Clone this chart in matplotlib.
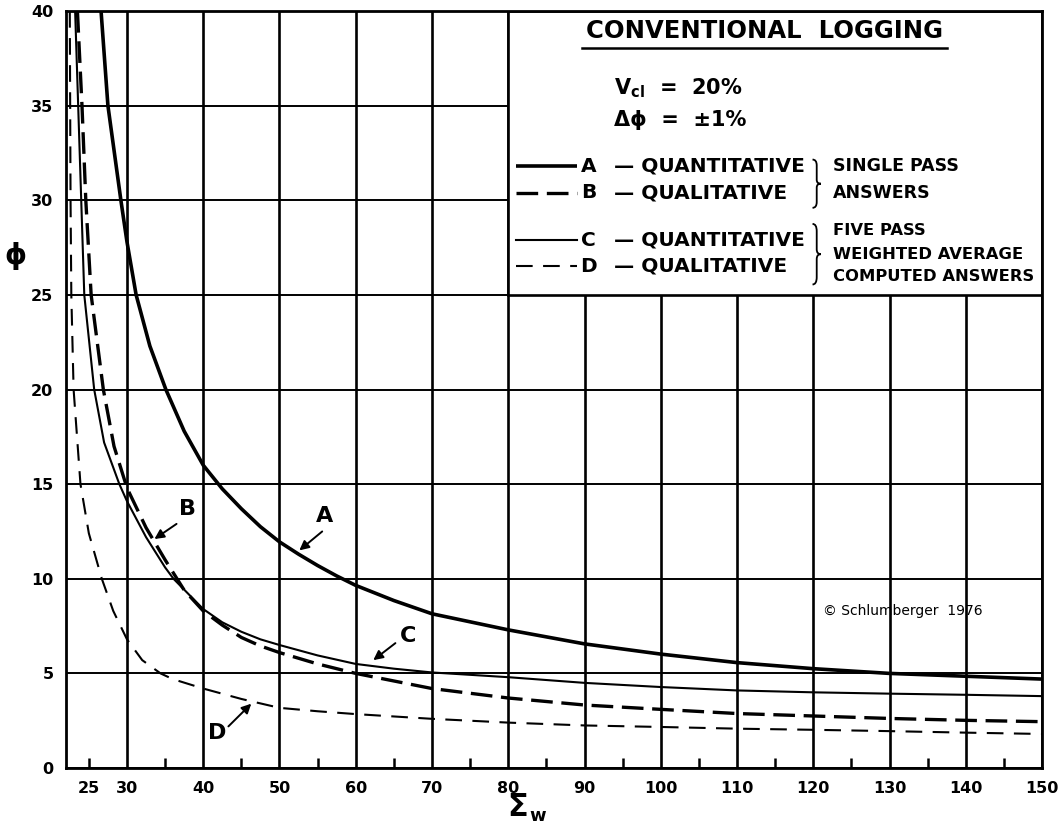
import matplotlib
matplotlib.use("Agg")
import matplotlib.pyplot as plt
from matplotlib.patches import Rectangle, PathPatch
from matplotlib.path import Path
from matplotlib.ticker import FixedLocator, FixedFormatter

# ---------------- data ----------------
a_x = [26.6, 27.5, 29.2, 30.0, 31.2, 33.0, 35.1, 37.5, 40.0, 42.5, 45.0, 47.5, 50.0,
       52.5, 55.0, 57.5, 60.0, 65.0, 70.0, 80.0, 90.0, 100.0, 110.0, 120.0, 130.0,
       140.0, 150.0]
a_y = [40.0, 35.0, 30.0, 27.8, 25.0, 22.3, 20.0, 17.8, 16.0, 14.75, 13.7, 12.75, 11.95,
       11.3, 10.7, 10.15, 9.65, 8.85, 8.15, 7.3, 6.56, 6.02, 5.57, 5.25, 5.0,
       4.85, 4.7]

b_x = [23.5, 24.1, 24.6, 25.3, 26.9, 28.3, 30.0, 32.5, 35.0, 37.5, 40.0, 42.5, 45.0,
       47.5, 50.0, 55.0, 60.0, 70.0, 80.0, 90.0, 100.0, 110.0, 120.0, 130.0, 140.0,
       150.0]
b_y = [40.0, 35.0, 30.0, 25.0, 20.0, 17.0, 14.8, 12.7, 11.0, 9.4, 8.3, 7.55, 6.9,
       6.45, 6.1, 5.5, 5.0, 4.2, 3.7, 3.33, 3.1, 2.88, 2.75, 2.62, 2.52,
       2.45]

c_x = [23.2, 23.6, 24.0, 24.4, 25.7, 27.0, 29.0, 30.0, 32.5, 35.0, 36.1, 40.0, 42.5,
       45.0, 47.5, 50.0, 55.0, 60.0, 65.0, 70.0, 80.0, 90.0, 100.0, 110.0, 120.0,
       130.0, 140.0, 150.0]
c_y = [40.0, 35.0, 30.0, 25.0, 20.0, 17.2, 15.0, 14.1, 12.2, 10.6, 10.0, 8.4, 7.7,
       7.2, 6.8, 6.5, 5.95, 5.5, 5.25, 5.05, 4.8, 4.5, 4.28, 4.1, 4.0,
       3.93, 3.87, 3.8]

d_x = [22.5, 22.55, 22.6, 22.7, 23.0, 23.9, 25.0, 26.7, 28.2, 30.0, 32.0, 34.4, 36.0,
       40.0, 45.0, 50.0, 55.0, 60.0, 70.0, 80.0, 90.0, 100.0, 110.0, 120.0, 130.0,
       140.0, 150.0]
d_y = [40.0, 35.0, 30.0, 25.0, 20.0, 15.0, 12.4, 10.0, 8.3, 6.8, 5.7, 5.0, 4.7,
       4.2, 3.65, 3.18, 3.0, 2.85, 2.6, 2.4, 2.25, 2.17, 2.08, 2.02, 1.95,
       1.87, 1.8]

x_major = [30, 40, 50, 60, 70, 80, 90, 100, 110, 120, 130, 140, 150]
x_minor = [25, 35, 45, 55, 65, 75, 85, 95, 105, 115, 125, 135, 145]
y_ticks = [0, 5, 10, 15, 20, 25, 30, 35, 40]

series_letters = ["A", "B", "C", "D"]
series_kinds = ["QUANTITATIVE", "QUALITATIVE", "QUANTITATIVE", "QUALITATIVE"]

# ---------------- styles ----------------
FONT = "DejaVu Sans"
plt.rcParams["font.family"] = [FONT]
styles = {
    "A": dict(color="black", lw=2.6, ls="-", solid_capstyle="butt", solid_joinstyle="round"),
    "B": dict(color="black", lw=2.4, ls=(0, (6.5, 2.6)), dash_capstyle="butt"),
    "C": dict(color="black", lw=1.5, ls="-", solid_joinstyle="round"),
    "D": dict(color="black", lw=1.5, ls=(0, (8.0, 5.0)), dash_capstyle="butt"),
}

fig = plt.figure(figsize=(10.59, 8.27), dpi=100)
ax = fig.add_axes([0.0623, 0.0713, 0.9217, 0.9154])
ax.set_xlim(22, 150)
ax.set_ylim(0, 40)

# grid
ax.xaxis.set_major_locator(FixedLocator(x_major))
ax.xaxis.set_minor_locator(FixedLocator(x_minor))
ax.yaxis.set_major_locator(FixedLocator(y_ticks))
ax.xaxis.set_minor_formatter(FixedFormatter(["25"] + [""] * (len(x_minor) - 1)))
ax.grid(True, which="major", axis="x", color="black", lw=1.9, zorder=1)
ax.grid(True, which="major", axis="y", color="black", lw=1.4, zorder=1)
ax.set_axisbelow(True)
ax.tick_params(axis="both", which="major", length=0, pad=9,
               labelsize=11.5, labelcolor="black")
ax.tick_params(axis="x", which="minor", direction="in", length=7, width=1.8,
               pad=9, labelsize=11.5, top=False)
for lbl in ax.get_xticklabels(which="both") + ax.get_yticklabels():
    lbl.set_fontweight("bold")
for sp in ax.spines.values():
    sp.set_linewidth(2.0)
    sp.set_zorder(5)

# curves
for xs, ys, key in [(a_x, a_y, "A"), (b_x, b_y, "B"), (c_x, c_y, "C"), (d_x, d_y, "D")]:
    ax.plot(xs, ys, zorder=3, **styles[key])

# legend box (white panel in top-right)
ax.add_patch(Rectangle((80, 25), 70, 15, facecolor="white", edgecolor="black",
                       lw=1.9, zorder=4))
tz = 6
ax.text(113.6, 38.55, "CONVENTIONAL  LOGGING", ha="center", va="baseline",
        fontsize=17.5, fontweight="bold", zorder=tz)
ax.plot([89.7, 137.6], [38.05, 38.05], color="black", lw=1.8, zorder=tz)
ax.text(93.9, 35.6, r"$\mathbf{V}_{\mathbf{cl}}$  =  20%", ha="left", va="baseline",
        fontsize=15, fontweight="bold", zorder=tz)
ax.text(93.9, 33.9, "Δϕ  =  ±1%", ha="left", va="baseline",
        fontsize=15, fontweight="bold", zorder=tz)

row_y = [31.8, 30.4, 27.9, 26.5]
for letter, kind, yy in zip(series_letters, series_kinds, row_y):
    ax.plot([81.0, 89.0], [yy, yy], zorder=tz, **styles[letter])
    ax.text(90.5, yy, letter, ha="center", va="center", fontsize=14.5,
            fontweight="bold", zorder=tz)
    ax.text(93.9, yy, "— " + kind, ha="left", va="center", fontsize=14.5,
            fontweight="bold", zorder=tz)


def brace(x, y0, y1, w):
    ym = 0.5 * (y0 + y1)
    h = y1 - y0
    xm = x + w * 0.5
    verts = [(x, y1), (xm, y1), (xm, y1 - 0.12 * h),
             (xm, ym + 0.08 * h),
             (xm, ym), (x + w, ym),
             (xm, ym), (xm, ym - 0.08 * h),
             (xm, y0 + 0.12 * h),
             (xm, y0), (x, y0)]
    codes = [Path.MOVETO, Path.CURVE3, Path.CURVE3,
             Path.LINETO,
             Path.CURVE3, Path.CURVE3,
             Path.CURVE3, Path.CURVE3,
             Path.LINETO,
             Path.CURVE3, Path.CURVE3]
    ax.add_patch(PathPatch(Path(verts, codes), facecolor="none", edgecolor="black",
                           lw=1.3, zorder=tz))


brace(119.9, 29.6, 32.15, 1.1)
brace(119.9, 25.55, 28.75, 1.1)
ax.text(122.6, 31.8, "SINGLE PASS", ha="left", va="center", fontsize=12.5,
        fontweight="bold", zorder=tz)
ax.text(122.6, 30.4, "ANSWERS", ha="left", va="center", fontsize=12.5,
        fontweight="bold", zorder=tz)
ax.text(122.6, 28.4, "FIVE PASS", ha="left", va="center", fontsize=11.8,
        fontweight="bold", zorder=tz)
ax.text(122.6, 27.15, "WEIGHTED AVERAGE", ha="left", va="center", fontsize=11.8,
        fontweight="bold", zorder=tz)
ax.text(122.6, 25.95, "COMPUTED ANSWERS", ha="left", va="center", fontsize=11.8,
        fontweight="bold", zorder=tz)

# curve labels with arrows
arrow = dict(arrowstyle="-|>", color="black", lw=1.4, mutation_scale=14,
             shrinkA=0, shrinkB=0)
for letter, txt_xy, tail, tip in [
        ("A", (55.9, 13.3), (55.6, 12.5), (52.6, 11.5)),
        ("B", (37.9, 13.7), (36.5, 12.9), (33.6, 12.1)),
        ("C", (66.9, 7.0), (65.2, 6.6), (62.3, 5.7)),
        ("D", (41.8, 1.85), (43.3, 2.2), (46.3, 3.4))]:
    ax.text(txt_xy[0], txt_xy[1], letter, ha="center", va="center", fontsize=16,
            fontweight="bold", zorder=tz)
    ax.annotate("", xy=tip, xytext=tail, arrowprops=arrow, zorder=tz)

ax.text(121.3, 8.3, "© Schlumberger  1976", ha="left", va="center", fontsize=10,
        zorder=tz)

# axis labels
fig.text(0.489, 0.024, "Σ", ha="center", va="center", fontsize=22, fontweight="bold")
fig.text(0.508, 0.013, "w", ha="center", va="center", fontsize=13, fontweight="bold")
fig.text(0.015, 0.69, "ϕ", ha="center", va="center", fontsize=20, fontweight="bold")

fig.savefig("out.png", dpi=100)
